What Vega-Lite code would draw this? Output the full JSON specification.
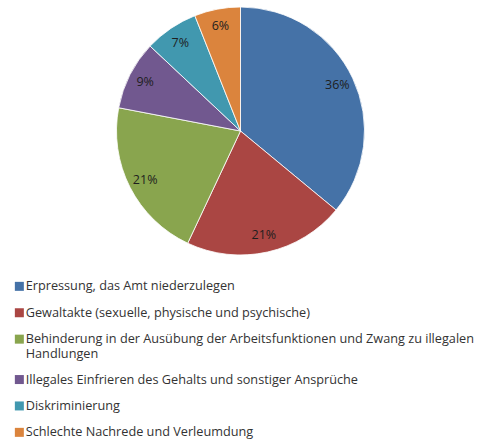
{
  "$schema": "https://vega.github.io/schema/vega-lite/v6.json",
  "width": 481,
  "height": 262,
  "padding": 0,
  "background": "white",
  "data": {
    "values": [
      {"cat": "Erpressung, das Amt niederzulegen", "value": 36, "label": "36%", "rank": 1},
      {"cat": "Gewaltakte (sexuelle, physische und psychische)", "value": 21, "label": "21%", "rank": 2},
      {"cat": "Behinderung in der Ausübung der Arbeitsfunktionen und Zwang zu illegalen Handlungen", "value": 21, "label": "21%", "rank": 3},
      {"cat": "Illegales Einfrieren des Gehalts und sonstiger Ansprüche", "value": 9, "label": "9%", "rank": 4},
      {"cat": "Diskriminierung", "value": 7, "label": "7%", "rank": 5},
      {"cat": "Schlechte Nachrede und Verleumdung", "value": 6, "label": "6%", "rank": 6}
    ]
  },
  "encoding": {
    "theta": {"field": "value", "type": "quantitative", "stack": true},
    "order": {"field": "rank", "type": "quantitative"},
    "color": {
      "field": "cat",
      "type": "nominal",
      "sort": null,
      "scale": {
        "domain": [
          "Erpressung, das Amt niederzulegen",
          "Gewaltakte (sexuelle, physische und psychische)",
          "Behinderung in der Ausübung der Arbeitsfunktionen und Zwang zu illegalen Handlungen",
          "Illegales Einfrieren des Gehalts und sonstiger Ansprüche",
          "Diskriminierung",
          "Schlechte Nachrede und Verleumdung"
        ],
        "range": ["#4572A7", "#AA4643", "#89A54E", "#71588F", "#4198AF", "#DB843D"]
      },
      "legend": {
        "orient": "none",
        "legendX": 13,
        "legendY": 280,
        "direction": "vertical",
        "title": null,
        "symbolType": "square",
        "symbolSize": 81,
        "symbolStrokeWidth": 0,
        "labelFont": "Open Sans",
        "labelFontSize": 12.7,
        "labelColor": "#333333",
        "labelLimit": 0,
        "labelOffset": 0,
        "rowPadding": 12.4,
        "labelExpr": "datum.label == 'Behinderung in der Ausübung der Arbeitsfunktionen und Zwang zu illegalen Handlungen' ? ['Behinderung in der Ausübung der Arbeitsfunktionen und Zwang zu illegalen', 'Handlungen'] : datum.label"
      }
    }
  },
  "layer": [
    {"mark": {"type": "arc", "outerRadius": 124, "stroke": "white", "strokeWidth": 0.8}},
    {
      "mark": {"type": "text", "radius": 107, "font": "Open Sans", "fontSize": 12.5},
      "encoding": {
        "text": {"field": "label", "type": "nominal"},
        "color": {"value": "#1e1e1e"}
      }
    }
  ],
  "config": {"view": {"stroke": null}}
}
